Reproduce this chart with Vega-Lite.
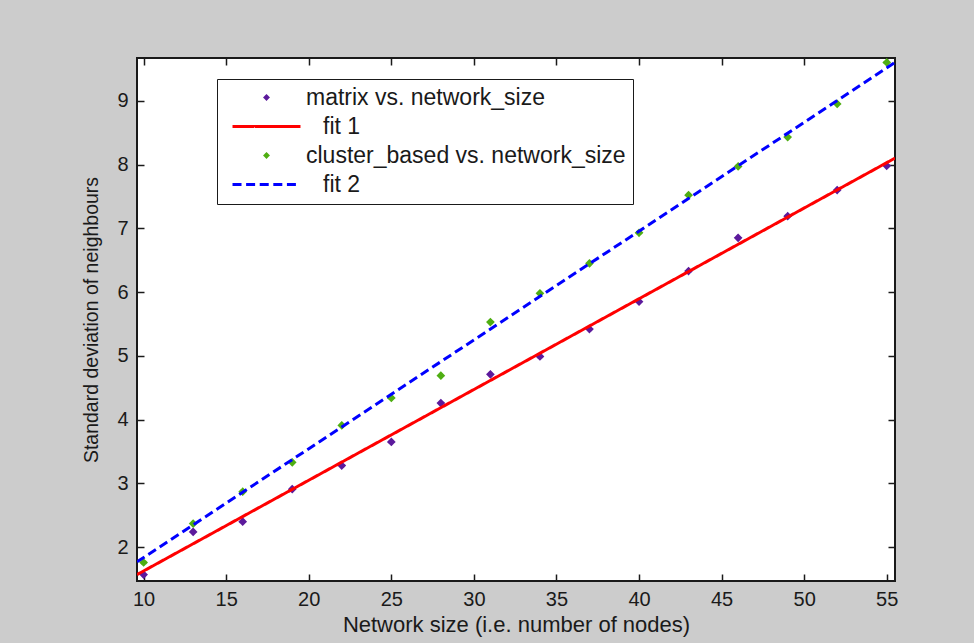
{
  "$schema": "https://vega.github.io/schema/vega-lite/v6.json",
  "width": 758,
  "height": 523,
  "autosize": {"type": "none"},
  "padding": {"left": 137, "top": 58, "right": 79, "bottom": 62},
  "background": "#cccccc",
  "datasets": {
    "points": [
      {"n": 10, "v": 1.57, "series": "matrix vs. network_size"},
      {"n": 13, "v": 2.24, "series": "matrix vs. network_size"},
      {"n": 16, "v": 2.40, "series": "matrix vs. network_size"},
      {"n": 19, "v": 2.91, "series": "matrix vs. network_size"},
      {"n": 22, "v": 3.28, "series": "matrix vs. network_size"},
      {"n": 25, "v": 3.65, "series": "matrix vs. network_size"},
      {"n": 28, "v": 4.26, "series": "matrix vs. network_size"},
      {"n": 31, "v": 4.71, "series": "matrix vs. network_size"},
      {"n": 34, "v": 4.99, "series": "matrix vs. network_size"},
      {"n": 37, "v": 5.42, "series": "matrix vs. network_size"},
      {"n": 40, "v": 5.85, "series": "matrix vs. network_size"},
      {"n": 43, "v": 6.33, "series": "matrix vs. network_size"},
      {"n": 46, "v": 6.85, "series": "matrix vs. network_size"},
      {"n": 49, "v": 7.19, "series": "matrix vs. network_size"},
      {"n": 52, "v": 7.60, "series": "matrix vs. network_size"},
      {"n": 55, "v": 7.98, "series": "matrix vs. network_size"},
      {"n": 10, "v": 1.76, "series": "cluster_based vs. network_size"},
      {"n": 13, "v": 2.37, "series": "cluster_based vs. network_size"},
      {"n": 16, "v": 2.87, "series": "cluster_based vs. network_size"},
      {"n": 19, "v": 3.33, "series": "cluster_based vs. network_size"},
      {"n": 22, "v": 3.91, "series": "cluster_based vs. network_size"},
      {"n": 25, "v": 4.34, "series": "cluster_based vs. network_size"},
      {"n": 28, "v": 4.69, "series": "cluster_based vs. network_size"},
      {"n": 31, "v": 5.53, "series": "cluster_based vs. network_size"},
      {"n": 34, "v": 5.98, "series": "cluster_based vs. network_size"},
      {"n": 37, "v": 6.45, "series": "cluster_based vs. network_size"},
      {"n": 40, "v": 6.93, "series": "cluster_based vs. network_size"},
      {"n": 43, "v": 7.52, "series": "cluster_based vs. network_size"},
      {"n": 46, "v": 7.97, "series": "cluster_based vs. network_size"},
      {"n": 49, "v": 8.43, "series": "cluster_based vs. network_size"},
      {"n": 52, "v": 8.95, "series": "cluster_based vs. network_size"},
      {"n": 55, "v": 9.60, "series": "cluster_based vs. network_size"}
    ],
    "fit1": [
      {"n": 9.6, "v": 1.57, "series": "\u2800fit 1"},
      {"n": 55.5, "v": 8.10, "series": "\u2800fit 1"}
    ],
    "fit2": [
      {"n": 9.6, "v": 1.77, "series": "\u2800fit 2"},
      {"n": 55.5, "v": 9.60, "series": "\u2800fit 2"}
    ]
  },
  "config": {
    "font": "Liberation Sans",
    "view": {"fill": "white", "stroke": "#1a1a1a", "strokeWidth": 2},
    "axis": {
      "domain": false,
      "grid": false,
      "tickColor": "#1a1a1a",
      "tickSize": -7,
      "tickWidth": 1.5,
      "labelFont": "Liberation Sans",
      "labelFontSize": 20,
      "labelColor": "#1a1a1a",
      "titleFont": "Liberation Sans",
      "titleFontWeight": "normal",
      "titleColor": "#1a1a1a"
    }
  },
  "layer": [
    {
      "data": {"name": "points"},
      "mark": {"type": "point", "filled": true, "size": 100, "strokeWidth": 3, "opacity": 1},
      "encoding": {
        "x": {
          "field": "n", "type": "quantitative",
          "scale": {"domain": [9.6, 55.5], "nice": false, "zero": false},
          "axis": {"orient": "bottom", "values": [10, 15, 20, 25, 30, 35, 40, 45, 50, 55], "title": "Network size (i.e. number of nodes)", "titleFontSize": 22, "labelPadding": 15, "titlePadding": 5}
        },
        "y": {
          "field": "v", "type": "quantitative",
          "scale": {"domain": [1.47, 9.67], "nice": false, "zero": false},
          "axis": {"orient": "left", "values": [2, 3, 4, 5, 6, 7, 8, 9], "title": "Standard deviation of neighbours", "titleFontSize": 19.5, "labelPadding": 16, "titlePadding": 15}
        },
        "color": {
          "field": "series", "type": "nominal",
          "scale": {
            "domain": ["matrix vs. network_size", "\u2800fit 1", "cluster_based vs. network_size", "\u2800fit 2"],
            "range": ["#5c1a9c", "#ff0000", "#4fae12", "#0000ff"]
          },
          "legend": {
            "title": null,
            "orient": "none",
            "legendX": 80,
            "legendY": 21,
            "strokeColor": "#1a1a1a",
            "fillColor": "white",
            "padding": 7,
            "labelFont": "Liberation Sans",
            "labelFontSize": 23,
            "labelColor": "#1a1a1a",
            "labelLimit": 600,
            "symbolSize": 36,
            "symbolStrokeWidth": 3,
            "symbolOffset": 31,
            "labelOffset": 28,
            "rowPadding": 5
          }
        },
        "stroke": {
          "field": "series", "type": "nominal",
          "scale": {
            "domain": ["matrix vs. network_size", "\u2800fit 1", "cluster_based vs. network_size", "\u2800fit 2"],
            "range": ["#5c1a9c", "#ff0000", "#4fae12", "#0000ff"]
          },
          "legend": {"title": null}
        },
        "shape": {
          "field": "series", "type": "nominal",
          "scale": {
            "domain": ["matrix vs. network_size", "\u2800fit 1", "cluster_based vs. network_size", "\u2800fit 2"],
            "range": ["M0,-0.45L0.45,0L0,0.45L-0.45,0Z", "M-11.33,0H11.33", "M0,-0.45L0.45,0L0,0.45L-0.45,0Z", "M-11.33,0H11.33"]
          },
          "legend": {"title": null}
        },
        "strokeDash": {
          "field": "series", "type": "nominal",
          "scale": {
            "domain": ["matrix vs. network_size", "\u2800fit 1", "cluster_based vs. network_size", "\u2800fit 2"],
            "range": [[1, 0], [1, 0], [1, 0], [9, 4.6]]
          },
          "legend": {"title": null}
        }
      }
    },
    {
      "data": {"name": "fit1"},
      "mark": {"type": "line", "strokeWidth": 3, "clip": true},
      "encoding": {
        "x": {"field": "n", "type": "quantitative", "axis": null},
        "y": {"field": "v", "type": "quantitative", "axis": null},
        "stroke": {"field": "series", "type": "nominal", "legend": null},
        "strokeDash": {"field": "series", "type": "nominal", "legend": null}
      }
    },
    {
      "data": {"name": "fit2"},
      "mark": {"type": "line", "strokeWidth": 3, "clip": true},
      "encoding": {
        "x": {"field": "n", "type": "quantitative", "axis": null},
        "y": {"field": "v", "type": "quantitative", "axis": null},
        "stroke": {"field": "series", "type": "nominal", "legend": null},
        "strokeDash": {"field": "series", "type": "nominal", "legend": null}
      }
    },
    {
      "data": {"name": "fit1"},
      "mark": {"type": "point", "opacity": 0},
      "encoding": {
        "x": {"field": "n", "type": "quantitative", "axis": {"orient": "top", "values": [10, 15, 20, 25, 30, 35, 40, 45, 50, 55], "labels": false, "title": null}},
        "y": {"field": "v", "type": "quantitative", "axis": {"orient": "right", "values": [2, 3, 4, 5, 6, 7, 8, 9], "labels": false, "title": null}}
      }
    }
  ],
  "resolve": {"axis": {"x": "independent", "y": "independent"}}
}
